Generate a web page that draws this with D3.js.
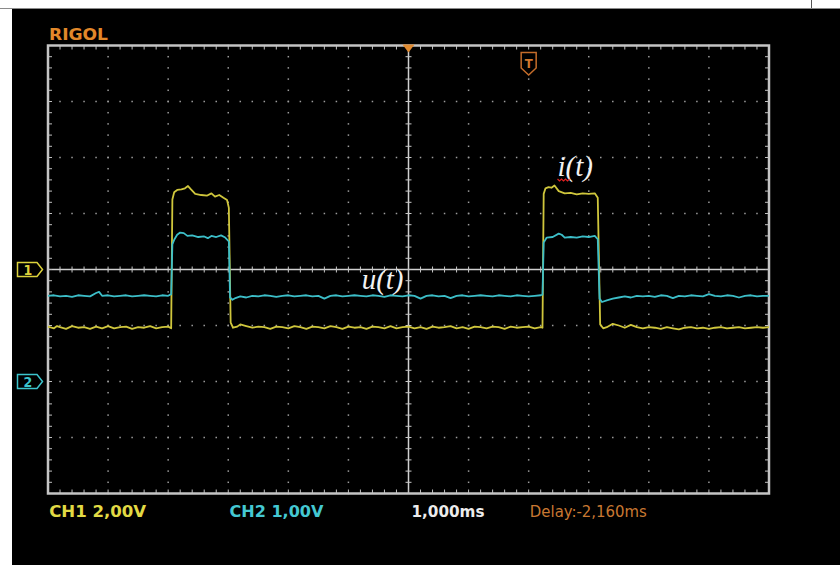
<!DOCTYPE html>
<html>
<head>
<meta charset="utf-8">
<script src="https://cdn.jsdelivr.net/npm/d3@7"></script>
<style>
  html, body { margin: 0; padding: 0; background: #fff; }
  svg { display: block; }
</style>
</head>
<body>
<div class="scope"></div>
<script>
// time in divisions (1,000ms/div), level in divisions
const ch1 = [
  [0, -1.02], [0.1, -1.05], [0.15, -1.01], [0.2, -1.03], [0.3, -1.06], [0.4, -1.01], [0.5, -1.04], [0.6, -1.03],
  [0.7, -1.06], [0.8, -1.02], [0.9, -1.05], [1.0, -1.01], [1.1, -1.05], [1.2, -1.03], [1.3, -1.02],
  [1.4, -1.06], [1.5, -1.03], [1.6, -1.04], [1.7, -1.01], [1.8, -1.05], [1.9, -1.03], [2.0, -1.02],
  [2.05, -1.05], [2.07, 1.25], [2.1, 1.38], [2.15, 1.42], [2.22, 1.43], [2.28, 1.45], [2.33, 1.49],
  [2.38, 1.43], [2.45, 1.35], [2.55, 1.33], [2.65, 1.32], [2.72, 1.36], [2.78, 1.30], [2.85, 1.33],
  [2.92, 1.28], [2.98, 1.24], [3.01, 1.10], [3.04, -0.95], [3.08, -1.04], [3.15, -1.02], [3.2, -0.98],
  [3.3, -1.01], [3.4, -1.04], [3.5, -1.02], [3.6, -1.03], [3.7, -1.06], [3.8, -1.02], [3.9, -1.03],
  [4.0, -1.05], [4.1, -1.01], [4.2, -1.03], [4.3, -1.06], [4.4, -1.02], [4.5, -1.03], [4.6, -1.05],
  [4.7, -1.01], [4.8, -1.03], [4.9, -1.06], [5.0, -1.02], [5.1, -1.04], [5.2, -1.03], [5.3, -1.06],
  [5.4, -1.02], [5.5, -1.03], [5.6, -1.05], [5.7, -1.01], [5.8, -1.05], [5.9, -1.03], [6.0, -1.02],
  [6.1, -1.05], [6.2, -1.03], [6.3, -1.06], [6.4, -1.02], [6.5, -1.04], [6.6, -1.03], [6.7, -1.01],
  [6.8, -1.05], [6.9, -1.03], [7.0, -1.06], [7.1, -1.02], [7.2, -1.03], [7.3, -1.05], [7.4, -1.02],
  [7.5, -1.03], [7.6, -1.06], [7.7, -1.02], [7.8, -1.04], [7.9, -1.03], [8.0, -1.02], [8.1, -1.05],
  [8.2, -1.03], [8.23, -1.04], [8.25, 1.35], [8.28, 1.45], [8.33, 1.47], [8.38, 1.46], [8.43, 1.50],
  [8.5, 1.40], [8.6, 1.36], [8.7, 1.37], [8.8, 1.34], [8.9, 1.36], [9.0, 1.35], [9.1, 1.36],
  [9.15, 1.28], [9.19, -0.98], [9.24, -1.05], [9.3, -1.03], [9.4, -0.97], [9.5, -1.00], [9.6, -1.04],
  [9.7, -0.99], [9.8, -1.03], [9.9, -1.05], [10.0, -1.03], [10.1, -1.04], [10.2, -1.06], [10.3, -1.03],
  [10.4, -1.05], [10.5, -1.07], [10.6, -1.04], [10.7, -1.03], [10.8, -1.05], [10.9, -1.04], [11.0, -1.06],
  [11.1, -1.04], [11.2, -1.03], [11.3, -1.05], [11.4, -1.04], [11.5, -1.03], [11.6, -1.05], [11.7, -1.04],
  [11.8, -1.03], [11.9, -1.04], [12.0, -1.03],
];
const ch2 = [
  [0, -0.47], [0.1, -0.46], [0.2, -0.48], [0.3, -0.47], [0.4, -0.49], [0.5, -0.46], [0.6, -0.47],
  [0.7, -0.48], [0.8, -0.42], [0.85, -0.40], [0.9, -0.47], [1.0, -0.46], [1.1, -0.48], [1.2, -0.47],
  [1.3, -0.46], [1.4, -0.48], [1.5, -0.47], [1.6, -0.46], [1.7, -0.47], [1.8, -0.48], [1.9, -0.46],
  [2.0, -0.47], [2.05, -0.44], [2.07, 0.45], [2.1, 0.53], [2.15, 0.62], [2.2, 0.66], [2.26, 0.65],
  [2.32, 0.60], [2.4, 0.61], [2.5, 0.58], [2.6, 0.59], [2.66, 0.56], [2.72, 0.60], [2.8, 0.58],
  [2.88, 0.61], [2.95, 0.57], [3.01, 0.50], [3.03, -0.50], [3.07, -0.54], [3.12, -0.51], [3.2, -0.48],
  [3.3, -0.50], [3.4, -0.47], [3.5, -0.48], [3.6, -0.46], [3.7, -0.47], [3.8, -0.49], [3.9, -0.47],
  [4.0, -0.46], [4.1, -0.48], [4.2, -0.47], [4.3, -0.46], [4.4, -0.48], [4.5, -0.47], [4.6, -0.52],
  [4.7, -0.47], [4.8, -0.46], [4.9, -0.48], [5.0, -0.47], [5.1, -0.46], [5.2, -0.47], [5.3, -0.48],
  [5.4, -0.46], [5.5, -0.47], [5.6, -0.49], [5.7, -0.46], [5.8, -0.47], [5.9, -0.48], [6.0, -0.46],
  [6.1, -0.47], [6.2, -0.52], [6.3, -0.47], [6.4, -0.46], [6.5, -0.48], [6.6, -0.47], [6.7, -0.51],
  [6.8, -0.47], [6.9, -0.46], [7.0, -0.48], [7.1, -0.47], [7.2, -0.46], [7.3, -0.47], [7.4, -0.48],
  [7.5, -0.46], [7.6, -0.47], [7.7, -0.48], [7.8, -0.46], [7.9, -0.47], [8.0, -0.48], [8.1, -0.47],
  [8.2, -0.46], [8.23, -0.45], [8.25, 0.48], [8.3, 0.57], [8.4, 0.58], [8.5, 0.64], [8.55, 0.62],
  [8.6, 0.57], [8.7, 0.58], [8.8, 0.57], [8.9, 0.59], [9.0, 0.58], [9.1, 0.60], [9.15, 0.54],
  [9.18, -0.52], [9.22, -0.58], [9.3, -0.55], [9.4, -0.52], [9.5, -0.50], [9.6, -0.48], [9.7, -0.50],
  [9.8, -0.47], [9.9, -0.48], [10.0, -0.47], [10.1, -0.49], [10.2, -0.46], [10.3, -0.47], [10.4, -0.51],
  [10.5, -0.47], [10.6, -0.48], [10.7, -0.46], [10.8, -0.47], [10.9, -0.48], [11.0, -0.44], [11.1, -0.47],
  [11.2, -0.48], [11.3, -0.46], [11.4, -0.47], [11.5, -0.50], [11.6, -0.47], [11.7, -0.46], [11.8, -0.48],
  [11.9, -0.47], [12.0, -0.47],
];
const statusLabels = [
  { text: 'CH1 2,00V', x: 0.02, color: '#e2da44', len: 97 },
  { text: 'CH2 1,00V', x: 3.02, color: '#44c8d2', len: 94 },
  { text: '1,000ms', x: 6.05, color: '#ececec', len: 73 },
  { text: 'Delay:-2,160ms', x: 8.02, color: '#c87832', len: 117 },
];
const channelMarkers = [
  { label: '1', level: 0, color: '#dcd23c' },
  { label: '2', level: -2, color: '#3cc4cc' },
];
const traceNames = [
  { text: 'i(t)', t: 8.48, v: 1.67 },
  { text: 'u(t)', t: 5.22, v: -0.35 },
];

const W = 840;
const H = 565;
const svg = d3
  .select('.scope')
  .append('svg')
  .attr('width', W)
  .attr('height', H);

// screen background
svg.append('rect').attr('width', W).attr('height', H).attr('fill', '#fff');
svg.append('rect').attr('x', 12).attr('y', 9).attr('width', W - 12).attr('height', H - 9).attr('fill', '#000');
svg.append('line').attr('x1', 0).attr('x2', W).attr('y1', 8.5).attr('y2', 8.5).attr('stroke', '#8a8a8a');
svg.append('line').attr('x1', 811.5).attr('x2', 811.5).attr('y1', 0).attr('y2', 8).attr('stroke', '#555');

const x = d3.scaleLinear().domain([0, 12]).range([48, 769]);
const y = d3.scaleLinear().domain([-4, 4]).range([493.5, 45.5]);

const grid = svg.append('g');
const dotColor = '#9c9c9c';

// dotted graticule
d3.range(1, 12).filter(d => d !== 6).forEach(d => {
  d3.range(-4, 4.01, 0.2).forEach(v => {
    grid.append('rect').attr('x', x(d) - 0.75).attr('y', y(v) - 0.75).attr('width', 1.5).attr('height', 1.5).attr('fill', dotColor);
  });
});
d3.range(-3, 4).filter(v => v !== 0).forEach(v => {
  d3.range(0, 12.01, 0.2).forEach(d => {
    grid.append('rect').attr('x', x(d) - 0.75).attr('y', y(v) - 0.75).attr('width', 1.5).attr('height', 1.5).attr('fill', dotColor);
  });
});

// centre axes with minor ticks
grid.append('line').attr('x1', x(0)).attr('x2', x(12)).attr('y1', y(0)).attr('y2', y(0)).attr('stroke', '#d0d0d0').attr('stroke-width', 1.5);
grid.append('line').attr('x1', x(6)).attr('x2', x(6)).attr('y1', y(-4)).attr('y2', y(4)).attr('stroke', '#d0d0d0').attr('stroke-width', 1.5);
d3.range(0, 12.01, 0.2).forEach(d => {
  grid.append('line').attr('x1', x(d)).attr('x2', x(d)).attr('y1', y(0) - 3).attr('y2', y(0) + 3).attr('stroke', '#c8c8c8').attr('stroke-width', 1);
});
d3.range(-4, 4.01, 0.2).forEach(v => {
  grid.append('line').attr('x1', x(6) - 3).attr('x2', x(6) + 3).attr('y1', y(v)).attr('y2', y(v)).attr('stroke', '#c8c8c8').attr('stroke-width', 1);
});

// border ticks
d3.range(0, 12.01, 0.2).forEach(d => {
  grid.append('line').attr('x1', x(d)).attr('x2', x(d)).attr('y1', y(4)).attr('y2', y(4) + 4).attr('stroke', '#c0c0c0');
  grid.append('line').attr('x1', x(d)).attr('x2', x(d)).attr('y1', y(-4)).attr('y2', y(-4) - 4).attr('stroke', '#c0c0c0');
});
d3.range(-4, 4.01, 0.2).forEach(v => {
  grid.append('line').attr('x1', x(0)).attr('x2', x(0) + 4).attr('y1', y(v)).attr('y2', y(v)).attr('stroke', '#c0c0c0');
  grid.append('line').attr('x1', x(12)).attr('x2', x(12) - 4).attr('y1', y(v)).attr('y2', y(v)).attr('stroke', '#c0c0c0');
});
grid
  .append('rect')
  .attr('x', x(0))
  .attr('y', y(4))
  .attr('width', x(12) - x(0))
  .attr('height', y(-4) - y(4))
  .attr('fill', 'none')
  .attr('stroke', '#c4c4c4')
  .attr('stroke-width', 2.5);

// traces
const line = d3
  .line()
  .x(d => x(d[0]))
  .y(d => y(d[1]));
svg.append('path').datum(ch1).attr('d', line).attr('fill', 'none').attr('stroke', '#cfc63c').attr('stroke-width', 1.8).attr('stroke-linejoin', 'round');
svg.append('path').datum(ch2).attr('d', line).attr('fill', 'none').attr('stroke', '#3cbec8').attr('stroke-width', 1.8).attr('stroke-linejoin', 'round');

// channel markers
const marker = svg
  .selectAll('g.marker')
  .data(channelMarkers)
  .enter()
  .append('g')
  .attr('transform', d => `translate(0, ${y(d.level)})`);
marker
  .append('path')
  .attr('d', 'M17.5,-7 H37 L42.5,0 L37,7 H17.5 Z')
  .attr('fill', '#000')
  .attr('stroke', d => d.color)
  .attr('stroke-width', 1.5);
marker
  .append('text')
  .attr('x', 28)
  .attr('y', 5.5)
  .attr('text-anchor', 'middle')
  .attr('font-family', 'DejaVu Sans Condensed, DejaVu Sans')
  .attr('font-weight', 'bold')
  .attr('font-size', 14)
  .attr('fill', d => d.color)
  .text(d => d.label);

// trigger position marker and trigger time marker
svg
  .append('path')
  .attr('d', `M${x(6) - 6},${y(4) - 1} H${x(6) + 6} L${x(6)},${y(4) + 7} Z`)
  .attr('fill', '#e08a30');
svg
  .append('path')
  .attr('d', `M${x(8) - 7.5},52.5 H${x(8) + 7.5} V68 L${x(8)},75 L${x(8) - 7.5},68 Z`)
  .attr('fill', '#000')
  .attr('stroke', '#c46c2a')
  .attr('stroke-width', 1.5);
svg
  .append('text')
  .attr('x', x(8))
  .attr('y', 68)
  .attr('text-anchor', 'middle')
  .attr('font-family', 'DejaVu Sans Condensed, DejaVu Sans')
  .attr('font-weight', 'bold')
  .attr('font-size', 13)
  .attr('fill', '#d0782e')
  .text('T');

// header and status line
svg
  .append('text')
  .attr('x', 49)
  .attr('y', 40)
  .attr('font-family', 'DejaVu Sans Condensed, DejaVu Sans')
  .attr('font-weight', 'bold')
  .attr('font-size', 16)
  .attr('textLength', 59)
  .attr('lengthAdjust', 'spacingAndGlyphs')
  .attr('fill', '#e2882a')
  .text('RIGOL');

svg
  .selectAll('text.status')
  .data(statusLabels)
  .enter()
  .append('text')
  .attr('x', d => x(d.x))
  .attr('y', 517)
  .attr('font-family', 'DejaVu Sans Condensed, DejaVu Sans')
  .attr('font-weight', d => (d.text.startsWith('Delay') ? 'normal' : 'bold'))
  .attr('font-size', 15)
  .attr('textLength', d => d.len)
  .attr('lengthAdjust', 'spacingAndGlyphs')
  .attr('fill', d => d.color)
  .text(d => d.text);

// trace names
svg
  .selectAll('text.name')
  .data(traceNames)
  .enter()
  .append('text')
  .attr('x', d => x(d.t))
  .attr('y', d => y(d.v))
  .attr('font-family', 'Liberation Serif, DejaVu Serif, serif')
  .attr('font-style', 'italic')
  .attr('font-size', 29)
  .attr('fill', '#f2f2f2')
  .text(d => d.text);

// spell-check squiggle under i(t)
const sq = x(traceNames[0].t);
svg
  .append('path')
  .attr('d', `M${sq},179 l2,2 l2,-2 l2,2 l2,-2 l2,2 l2,-2`)
  .attr('fill', 'none')
  .attr('stroke', '#e02020')
  .attr('stroke-width', 1.2);
</script>
</body>
</html>
